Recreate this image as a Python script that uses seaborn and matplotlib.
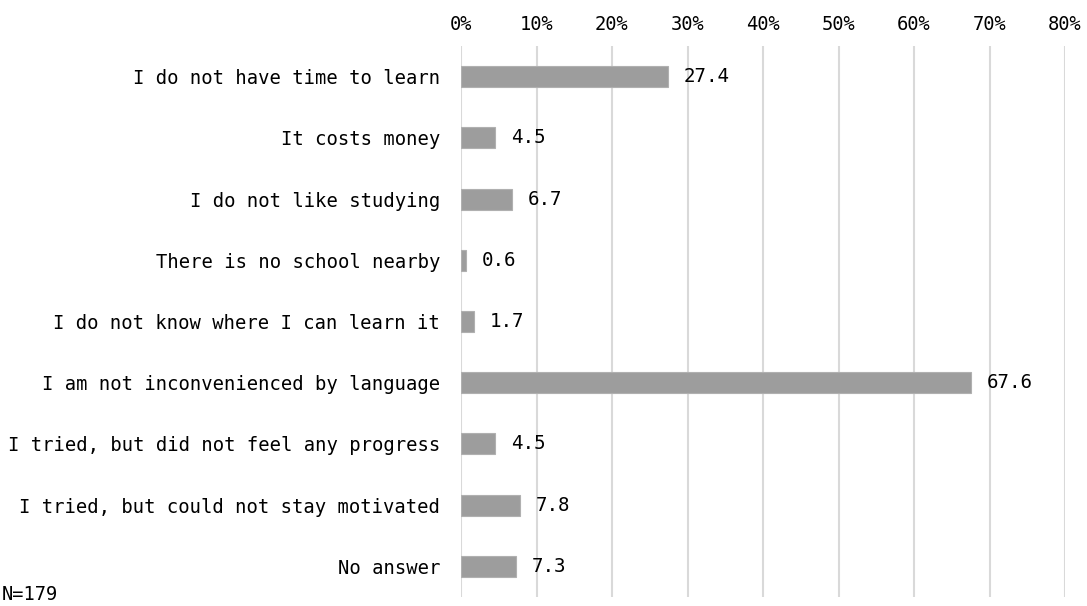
import matplotlib
matplotlib.use("Agg")
import matplotlib.pyplot as plt
import seaborn as sns
import pandas as pd

reasons = [
    "I do not have time to learn",
    "It costs money",
    "I do not like studying",
    "There is no school nearby",
    "I do not know where I can learn it",
    "I am not inconvenienced by language",
    "I tried, but did not feel any progress",
    "I tried, but could not stay motivated",
    "No answer",
]
shares = [27.4, 4.5, 6.7, 0.6, 1.7, 67.6, 4.5, 7.8, 7.3]
x_ticks = [0, 10, 20, 30, 40, 50, 60, 70, 80]
x_tick_labels = [f"{t}%" for t in x_ticks]
sample_note = "N=179"

sns.set_theme(style="white")
plt.rcParams["font.family"] = ["DejaVu Sans Mono"]
plt.rcParams["text.color"] = "#000000"

df = pd.DataFrame({"reason": reasons, "share": shares})

W, H = 1087, 606
fig = plt.figure(figsize=(W / 100, H / 100), dpi=100)
ax = fig.add_axes([461 / W, 1 - 597 / H, (1065 - 461) / W, (597 - 46) / H])

sns.barplot(data=df, x="share", y="reason", ax=ax, color="#9d9d9d",
            width=0.343, saturation=1, edgecolor="#b0b0b0", linewidth=0.8,
            zorder=3)

ax.set_xlim(0, 80)
ax.set_ylim(len(reasons) - 0.5, -0.5)
ax.set_xticks(x_ticks)
ax.set_xticklabels(x_tick_labels, fontsize=13.5)
ax.xaxis.tick_top()
ax.tick_params(axis="x", length=0, pad=9, labelcolor="#000000")
ax.tick_params(axis="y", length=0, pad=15, labelsize=13.6, labelcolor="#000000")
ax.set_xlabel("")
ax.set_ylabel("")
for s in ax.spines.values():
    s.set_visible(False)
ax.grid(axis="x", color="#d9d9d9", linewidth=1.5, zorder=0)
ax.grid(axis="y", visible=False)

for i, v in enumerate(shares):
    ax.text(v + 2.1, i, f"{v}", va="center", ha="left", fontsize=13.8,
            color="#000000")

fig.text(2 / W, 1 - 595 / H, sample_note, ha="left", va="center",
         fontsize=13.5, color="#000000")

fig.savefig("out.png", dpi=100, facecolor="white")
